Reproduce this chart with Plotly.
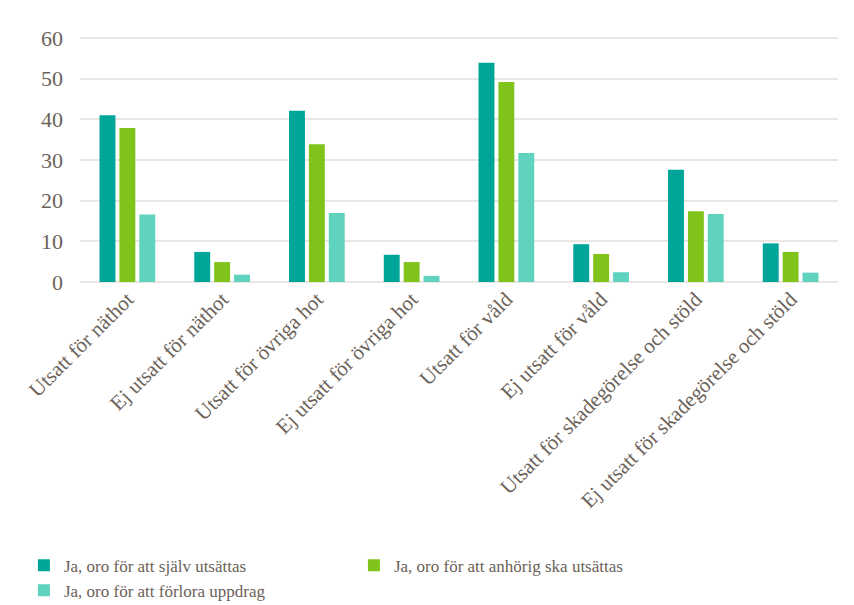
import plotly.graph_objects as go

categories = [
    "Utsatt för näthot",
    "Ej utsatt för näthot",
    "Utsatt för övriga hot",
    "Ej utsatt för övriga hot",
    "Utsatt för våld",
    "Ej utsatt för våld",
    "Utsatt för skadegörelse och stöld",
    "Ej utsatt för skadegörelse och stöld",
]
series_names = [
    "Ja, oro för att själv utsättas",
    "Ja, oro för att anhörig ska utsättas",
    "Ja, oro för att förlora uppdrag",
]
self_vals = [41, 7.4, 42.1, 6.7, 53.9, 9.3, 27.6, 9.5]
relative_vals = [37.9, 4.9, 33.9, 4.9, 49.2, 6.9, 17.4, 7.4]
assignment_vals = [16.6, 1.8, 17.0, 1.5, 31.7, 2.4, 16.7, 2.3]
y_ticks = [0, 10, 20, 30, 40, 50, 60]

colors = ["#00A59A", "#80C31A", "#5FD3BD"]
text_color = "#6B6259"
font_family = "Liberation Serif"

fig = go.Figure()
for name, vals, col in zip(series_names, [self_vals, relative_vals, assignment_vals], colors):
    fig.add_trace(go.Bar(
        x=categories, y=vals, name=name,
        marker=dict(color=col, line=dict(width=0)),
    ))

fig.update_layout(
    width=854, height=605,
    barmode="group", bargap=0.37, bargroupgap=0.2,
    paper_bgcolor="white", plot_bgcolor="white",
    margin=dict(l=72, r=24, t=28, b=331, autoexpand=False),
    font=dict(family=font_family, color=text_color),
    showlegend=True,
    legend=dict(
        orientation="h", x=-0.074, xanchor="left", y=-1.08, yanchor="top",
        font=dict(size=17, color=text_color, family=font_family),
        entrywidth=285, entrywidthmode="pixels",
        traceorder="normal", itemwidth=30,
        bgcolor="rgba(0,0,0,0)",
    ),
    xaxis=dict(
        tickangle=-45, tickfont=dict(size=21, color=text_color, family=font_family),
        showgrid=False, showline=False, ticks="",
    ),
    yaxis=dict(
        range=[0, 60.5], tickvals=y_ticks,
        tickfont=dict(size=22, color=text_color, family=font_family),
        showgrid=True, gridcolor="#EAE6E3", gridwidth=1.5,
        zeroline=True, zerolinecolor="#EAE6E3", zerolinewidth=1.5,
        showline=False, ticks="", ticklabelstandoff=16,
    ),
)

fig.write_html("out.html")
